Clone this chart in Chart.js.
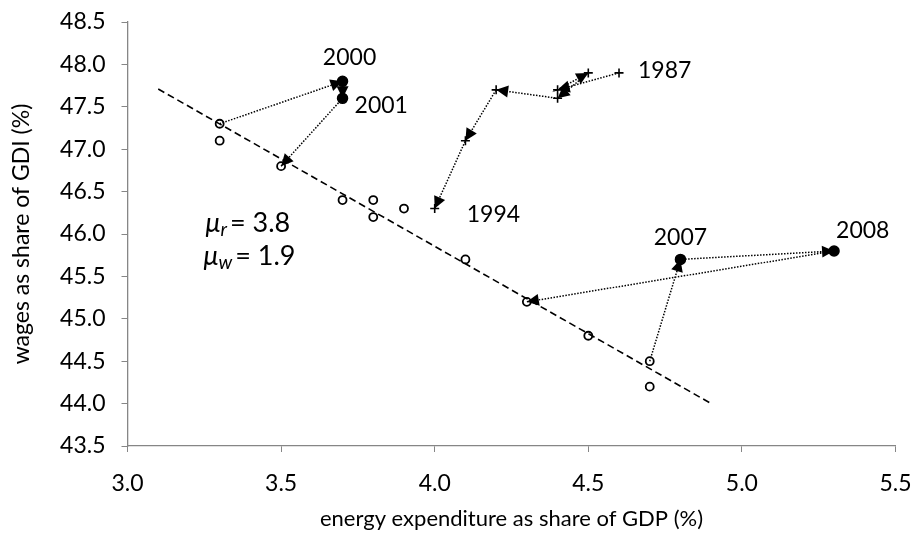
<!DOCTYPE html>
<html><head><meta charset="utf-8">
<script src="https://cdn.jsdelivr.net/npm/chart.js@4.4.1/dist/chart.umd.min.js"></script>
<style>html,body{margin:0;padding:0;background:#fff;}#wrap{width:911px;height:538px;}</style>
</head><body><div id="wrap"><canvas id="c" width="911" height="538"></canvas></div>
<script>
// ---- data ----
const xTickValues = [3.0, 3.5, 4.0, 4.5, 5.0, 5.5];
const yTickValues = [43.5, 44.0, 44.5, 45.0, 45.5, 46.0, 46.5, 47.0, 47.5, 48.0, 48.5];
const otherX = [3.3, 3.3, 3.5, 3.7, 3.8, 3.8, 3.9, 4.1, 4.3, 4.5, 4.7, 4.7];
const otherY = [47.3, 47.1, 46.8, 46.4, 46.4, 46.2, 46.3, 45.7, 45.2, 44.8, 44.5, 44.2];
const path1X = [4.6, 4.4, 4.5, 4.4, 4.2, 4.1, 4.0];
const path1Y = [47.9, 47.7, 47.9, 47.6, 47.7, 47.1, 46.3];
const path2X = [3.3, 3.7, 3.7, 3.5];
const path2Y = [47.3, 47.8, 47.6, 46.8];
const path3X = [4.7, 4.8, 5.3, 4.3];
const path3Y = [44.5, 45.7, 45.8, 45.2];
const fitX = [3.1, 4.9];
const fitY = [47.71, 44.0];
const yearText = ['1987', '1994', '2000', '2001', '2007', '2008'];
const xTitle = 'energy expenditure as share of GDP (%)';
const yTitle = 'wages as share of GDI (%)';

const pts = (xs, ys) => xs.map((x, i) => ({x, y: ys[i]}));
const FONT = 'Lato, "Liberation Sans", sans-serif';
const AX = '#868686';

// year labels: [dataset index, point index, dx, dy, align]
const yearAnchors = [
  [2, 0, 19, -2, 'left'],
  [2, 6, 32, 6, 'left'],
  [3, 1, 7, -24, 'center'],
  [3, 2, 12, 7, 'left'],
  [4, 1, 0, -22, 'center'],
  [4, 2, 2, -20, 'left']
];

const annotate = {
  id: 'annotate',
  afterDatasetsDraw(chart) {
    const ctx = chart.ctx;
    ctx.save();
    chart.data.datasets.forEach((ds, di) => {
      if (!ds.arrows) return;
      const pts = chart.getDatasetMeta(di).data;
      for (let i = 1; i < pts.length; i++) {
        const a = pts[i - 1], b = pts[i];
        const ang = Math.atan2(b.y - a.y, b.x - a.x);
        const L = 12, W = 6;
        ctx.save();
        ctx.translate(b.x, b.y);
        ctx.rotate(ang);
        ctx.beginPath();
        ctx.moveTo(0, 0);
        ctx.lineTo(-L, -W);
        ctx.lineTo(-L, W);
        ctx.closePath();
        ctx.fillStyle = '#000';
        ctx.fill();
        ctx.restore();
      }
    });
    ctx.fillStyle = '#000';
    ctx.font = '23px ' + FONT;
    ctx.textBaseline = 'middle';
    yearAnchors.forEach((a, k) => {
      const p = chart.getDatasetMeta(a[0]).data[a[1]];
      ctx.textAlign = a[4];
      ctx.fillText(yearText[k], p.x + a[2], p.y + a[3]);
    });
    const ca = chart.chartArea;
    const drawMu = (sub, val, x, y) => {
      ctx.textAlign = 'left';
      ctx.font = 'italic 27px ' + FONT;
      ctx.fillText('\u03bc', x, y);
      let w = ctx.measureText('\u03bc').width;
      ctx.font = 'italic 19px ' + FONT;
      ctx.fillText(sub, x + w, y + 7);
      w += ctx.measureText(sub).width + 3;
      ctx.font = '27px ' + FONT;
      ctx.fillText('= ' + val, x + w, y);
    };
    drawMu('r', '3.8', ca.left + 78, 223);
    drawMu('w', '1.9', ca.left + 76, 256);
    ctx.restore();
  }
};

new Chart(document.getElementById('c'), {
  type: 'scatter',
  data: {
    datasets: [
      {data: pts(otherX, otherY), pointStyle: 'circle', pointRadius: 4, borderWidth: 1.8,
       borderColor: '#000', backgroundColor: 'rgba(0,0,0,0)', order: 1},
      {type: 'line', data: pts(fitX, fitY), borderColor: '#000', borderWidth: 1.6,
       borderDash: [7, 4], pointRadius: 0, fill: false, order: 5},
      {type: 'line', data: pts(path1X, path1Y), borderColor: '#000', borderWidth: 1.5,
       borderDash: [1.5, 1.5], pointStyle: 'cross', pointRadius: 4.5, pointBorderWidth: 1.6,
       pointBorderColor: '#000', fill: false, arrows: true, order: 4},
      {type: 'line', data: pts(path2X, path2Y), borderColor: '#000', borderWidth: 1.5,
       borderDash: [1.5, 1.5], pointStyle: 'circle', pointRadius: [0, 5, 5, 0],
       pointBackgroundColor: '#000', pointBorderColor: '#000', fill: false, arrows: true, order: 3},
      {type: 'line', data: pts(path3X, path3Y), borderColor: '#000', borderWidth: 1.5,
       borderDash: [1.5, 1.5], pointStyle: 'circle', pointRadius: [0, 5, 5, 0],
       pointBackgroundColor: '#000', pointBorderColor: '#000', fill: false, arrows: true, order: 2}
    ]
  },
  options: {
    responsive: false,
    animation: false,
    devicePixelRatio: 1,
    layout: {padding: {top: 22, right: 15.5, left: 0, bottom: 0}},
    plugins: {legend: {display: false}, tooltip: {enabled: false}},
    scales: {
      x: {
        type: 'linear', min: xTickValues[0], max: xTickValues[xTickValues.length - 1],
        afterBuildTicks: s => { s.ticks = xTickValues.map(v => ({value: v})); },
        afterFit: s => { s.height = 92; s.paddingLeft = 0; s.paddingRight = 0; },
        ticks: {callback: v => v.toFixed(1), color: '#000', font: {family: FONT, size: 23}, padding: 18, maxRotation: 0},
        grid: {drawOnChartArea: false, color: AX, tickLength: 6, tickColor: AX},
        border: {color: AX, width: 1.3},
        title: {display: true, text: xTitle, color: '#000', font: {family: FONT, size: 22}, padding: {bottom: 6, top: 0}}
      },
      y: {
        type: 'linear', min: yTickValues[0], max: yTickValues[yTickValues.length - 1],
        afterBuildTicks: s => { s.ticks = yTickValues.map(v => ({value: v})); },
        afterFit: s => { s.width = 127.5; s.paddingTop = 0; s.paddingBottom = 0; },
        ticks: {callback: v => v.toFixed(1), color: '#000', font: {family: FONT, size: 23}, padding: 16},
        grid: {drawOnChartArea: false, color: AX, tickLength: 6, tickColor: AX},
        border: {color: AX, width: 1.3},
        title: {display: true, text: yTitle, color: '#000', font: {family: FONT, size: 23}, padding: {top: 8, bottom: 0}}
      }
    }
  },
  plugins: [annotate]
});
</script>
</body></html>
